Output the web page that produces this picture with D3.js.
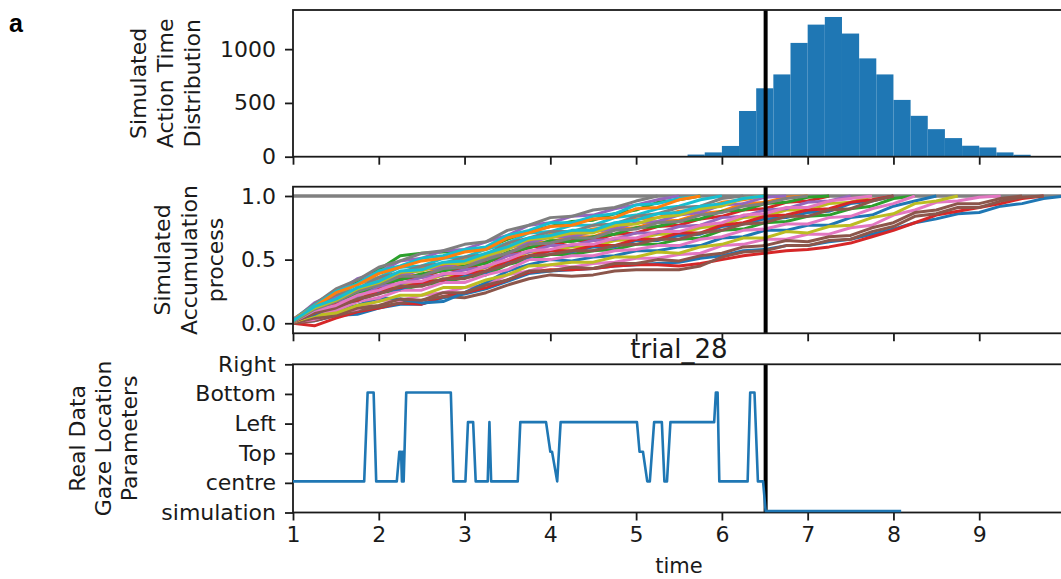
<!DOCTYPE html>
<html>
<head>
<meta charset="utf-8">
<script src="https://cdn.jsdelivr.net/npm/d3@7"></script>
<style>
  html, body { margin: 0; padding: 0; background: #fff; }
  svg { display: block; font-family: "DejaVu Sans", sans-serif; }
</style>
</head>
<body>
<svg id="chart" width="1061" height="579"></svg>
<script>
// ---- shared time axis ----
const timeTicks = [1, 2, 3, 4, 5, 6, 7, 8, 9];
const actionTime = 6.51;

// ---- simulated action time histogram ----
const binEdges  = [5.6, 5.8, 6.0, 6.2, 6.4, 6.6, 6.8, 7.0, 7.2, 7.4, 7.6, 7.8, 8.0, 8.2, 8.4, 8.6, 8.8, 9.0, 9.2, 9.4, 9.6];
const binCounts = [20, 40, 100, 425, 636, 765, 1058, 1228, 1299, 1145, 914, 765, 528, 380, 256, 173, 102, 86, 40, 18];
const countTicks = [0, 500, 1000];

// ---- simulated accumulation traces (values in hundredths, sampled on accTimes) ----
const accTimes = [1, 1.25, 1.5, 1.75, 2, 2.25, 2.5, 2.75, 3, 3.25, 3.5, 3.75, 4, 4.25, 4.5, 4.75, 5, 5.25, 5.5,
                  5.75, 6, 6.25, 6.5, 6.75, 7, 7.25, 7.5, 7.75, 8, 8.25, 8.5, 8.75, 9, 9.25, 9.5, 9.75, 10];
const walk00 = [0,2,6,7,12,15,15,20,23,27,33,39,41,42,43,45,46,47,48,51,53,57,58,61,61,64,66,70,74,79,82,86,87,92,94,98,100];
const walk01 = [2,12,17,26,30,37,38,44,45,51,55,63,64,68,68,74,75,80,81,86,88,94,95,99,100];
const walk02 = [2,15,25,33,42,53,55,56,57,59,66,72,76,80,81,86,89,95,97,100];
const walk03 = [0,-2,4,9,12,16,15,21,24,28,34,40,42,42,43,45,46,46,45,47,50,53,55,57,58,60,63,68,73,79,85,88,91,94,98,100];
const walk04 = [2,16,24,35,40,49,51,57,58,64,69,77,79,84,85,90,93,97,100];
const walk05 = [0,2,6,10,13,16,18,21,20,24,30,35,38,37,38,41,42,42,42,45,52,56,57,61,61,65,66,72,76,84,86,91,91,96,99,100];
const walk06 = [1,3,8,11,18,18,22,24,28,30,38,41,46,44,47,48,51,51,54,55,61,62,66,66,70,70,75,77,85,89,95,96,99,100];
const walk07 = [3,15,27,34,44,49,55,57,62,64,73,77,83,84,89,91,96,100];
const walk08 = [2,9,13,21,25,31,32,38,38,44,49,56,57,60,60,65,66,70,70,75,77,83,84,89,89,94,95,100];
const walk09 = [2,14,21,31,36,44,45,51,52,58,63,71,72,77,77,83,85,90,92,97,100];
const walk10 = [1,5,11,14,20,19,16,17,24,32,41,46,50,49,52,53,57,57,60,61,67,68,73,73,77,77,83,85,92,96,100];
const walk11 = [3,11,21,26,35,38,43,45,50,52,61,64,70,70,74,76,82,83,88,89,95,97,100];
const walk12 = [1,6,13,17,24,26,30,32,36,38,46,50,54,54,57,58,62,62,66,67,73,74,79,80,84,85,90,92,98,100];
const walk13 = [1,10,16,24,28,35,36,42,42,48,53,60,61,65,65,70,71,76,77,82,84,89,90,95,96,100];
const walk14 = [2,8,17,21,29,31,36,38,42,44,53,56,61,61,65,66,71,71,76,77,83,84,89,90,95,96,100];
const walk15 = [0,4,6,12,14,19,18,24,24,30,34,41,41,44,43,47,47,50,49,53,55,60,61,65,64,68,69,75,79,87,89,94,94,98,100];
const walk16 = [1,7,10,17,20,26,26,32,32,38,42,50,50,53,53,57,58,61,61,66,68,73,74,78,78,83,84,90,94,100];
const walk17 = [3,12,22,27,36,40,45,47,52,54,63,67,72,72,77,78,84,86,91,92,98,100];
const walk18 = [1,6,8,14,17,22,22,28,28,34,38,45,46,48,48,52,52,56,55,60,62,67,67,72,71,76,77,83,86,94,96,100];
const walk19 = [3,14,25,31,41,45,51,53,58,60,69,73,79,79,84,86,93,94,98,100];
const walk20 = [2,7,14,18,25,27,32,34,38,40,48,52,57,56,60,60,65,65,69,70,76,78,82,83,87,88,94,96,100];
const walk21 = [3,13,24,30,39,44,49,51,56,58,67,71,76,77,82,83,90,91,97,100];
const walk22 = [2,9,18,23,31,34,39,41,45,47,56,59,65,64,68,70,75,76,80,82,88,89,94,95,99,100];
const walk23 = [1,8,15,18,26,28,32,34,39,41,49,53,57,57,61,61,66,66,71,71,77,79,84,85,89,90,95,97,100];
const walk24 = [3,10,20,25,33,37,42,44,48,50,59,63,68,68,72,74,79,80,85,87,93,94,99,100];
const walk25 = [1,8,12,19,23,29,29,35,35,41,46,53,54,57,57,61,62,66,66,71,73,78,79,84,84,89,90,96,100];
const walk26 = [1,10,14,22,26,32,33,39,39,45,50,57,58,62,62,67,67,72,72,77,79,85,86,91,91,96,98,100];
const walk27 = [1,11,17,25,30,37,37,43,44,50,55,62,63,67,67,73,74,79,80,85,87,92,94,98,100];
const walk28 = [2,12,18,27,32,40,41,47,47,53,58,66,67,71,71,77,78,83,85,90,92,98,100];
const walk29 = [2,13,19,28,33,41,42,48,49,55,60,67,69,73,73,79,81,86,87,92,94,98,100];
const walks = [walk00, walk01, walk02, walk03, walk04, walk05, walk06, walk07, walk08, walk09,
               walk10, walk11, walk12, walk13, walk14, walk15, walk16, walk17, walk18, walk19,
               walk20, walk21, walk22, walk23, walk24, walk25, walk26, walk27, walk28, walk29];
const threshold = 1.0;
const accTicks = [0, 0.5, 1.0];
const accTickLabels = ["0.0", "0.5", "1.0"];

// ---- real gaze data ----
const gazeLabels = ["simulation", "centre", "Top", "Left", "Bottom", "Right"];
const gazeTimes = [1.00, 1.83, 1.87, 1.94, 1.97, 2.21, 2.24, 2.26, 2.27, 2.28, 2.29, 2.32, 2.84, 2.87,
                   3.01, 3.04, 3.10, 3.13, 3.27, 3.29, 3.31, 3.62, 3.65, 3.95, 4.00, 4.02, 4.08, 4.12,
                   5.01, 5.04, 5.08, 5.13, 5.16, 5.21, 5.30, 5.33, 5.36, 5.40, 5.91, 5.93, 5.95, 5.97,
                   6.30, 6.33, 6.38, 6.42, 6.48, 6.51, 8.09];
const gazeLevels = [1, 1, 4, 4, 1, 1, 2, 2, 1, 2, 1, 4, 4, 1,
                    1, 3, 3, 1, 1, 3, 1, 1, 3, 3, 2, 2, 1, 3,
                    3, 2, 2, 1, 1, 3, 3, 1, 1, 3, 3, 4, 4, 1,
                    1, 4, 4, 1, 1, 0, 0];
const trialTitle = "trial_28";

// ---- layout ----
const svg = d3.select("#chart");
const ink = "#1a1a1a";
const blue = "#1f77b4";
const tab10 = d3.schemeCategory10;

const x = d3.scaleLinear().domain([1, 10]).range([293, 1065]);
const panels = {
  hist: { top: 10,    bottom: 156.7 },
  acc:  { top: 186.7, bottom: 333.3 },
  gaze: { top: 364.3, bottom: 512.5 }
};

const yHist = d3.scaleLinear().domain([0, d3.max(binCounts) * 1.05]).range([panels.hist.bottom, panels.hist.top]);
const yAcc  = d3.scaleLinear().domain([-0.079, 1.073]).range([panels.acc.bottom, panels.acc.top]);
const yGaze = d3.scaleLinear().domain([0, gazeLabels.length - 1]).range([panels.gaze.bottom, panels.gaze.top]);

const defs = svg.append("defs");
Object.entries(panels).forEach(([k, p]) => {
  defs.append("clipPath").attr("id", "clip-" + k)
    .append("rect").attr("x", x(1)).attr("y", p.top)
    .attr("width", x(10) - x(1)).attr("height", p.bottom - p.top);
});

function panelGroup(key) {
  return svg.append("g").attr("clip-path", "url(#clip-" + key + ")");
}

// ---- histogram ----
const gHist = panelGroup("hist");
gHist.selectAll("rect.bar")
  .data(binCounts)
  .join("rect")
  .attr("class", "bar")
  .attr("x", (d, i) => x(binEdges[i]))
  .attr("width", (d, i) => x(binEdges[i + 1]) - x(binEdges[i]))
  .attr("y", d => yHist(d))
  .attr("height", d => yHist(0) - yHist(d))
  .attr("fill", blue);

// ---- accumulation traces ----
const gAcc = panelGroup("acc");
gAcc.append("line")
  .attr("x1", x(1)).attr("x2", x(10))
  .attr("y1", yAcc(threshold)).attr("y2", yAcc(threshold))
  .attr("stroke", "#808080").attr("stroke-width", 3.5);

const walkLine = d3.line()
  .x((d, i) => x(accTimes[i]))
  .y(d => yAcc(d / 100));
gAcc.selectAll("path.walk")
  .data(walks)
  .join("path")
  .attr("class", "walk")
  .attr("d", walkLine)
  .attr("fill", "none")
  .attr("stroke", (d, i) => tab10[i % 10])
  .attr("stroke-width", 3)
  .attr("stroke-linejoin", "round");

// ---- action time marker in every panel ----
Object.values(panels).forEach(p => {
  svg.append("line")
    .attr("x1", x(actionTime)).attr("x2", x(actionTime))
    .attr("y1", p.top).attr("y2", p.bottom)
    .attr("stroke", "#000").attr("stroke-width", 4);
});

// ---- axes & frames ----
function styleAxis(g, size) {
  g.select(".domain").remove();
  g.attr("font-family", "DejaVu Sans, sans-serif").attr("font-size", size).attr("color", ink);
  g.selectAll(".tick line").attr("stroke-width", 1.8);
}

function yAxis(scale, values, labels) {
  const g = svg.append("g").attr("transform", `translate(${x(1)},0)`)
    .call(d3.axisLeft(scale).tickValues(values).tickSize(8).tickPadding(9)
      .tickFormat((d, i) => labels[i]));
  styleAxis(g, 22);
}

function xAxis(p, withLabels) {
  const g = svg.append("g").attr("transform", `translate(0,${p.bottom})`)
    .call(d3.axisBottom(x).tickValues(timeTicks).tickSize(8).tickPadding(6)
      .tickFormat(withLabels ? d3.format("d") : () => ""));
  styleAxis(g, 22);
}

yAxis(yHist, countTicks, countTicks.map(String));
yAxis(yAcc, accTicks, accTickLabels);
yAxis(yGaze, d3.range(gazeLabels.length), gazeLabels);
xAxis(panels.hist, false);
xAxis(panels.acc, false);
xAxis(panels.gaze, true);

Object.values(panels).forEach(p => {
  svg.append("rect")
    .attr("x", x(1)).attr("y", p.top)
    .attr("width", x(10) - x(1)).attr("height", p.bottom - p.top)
    .attr("fill", "none").attr("stroke", ink).attr("stroke-width", 1.8);
});

// ---- gaze location (drawn above the frame so the bottom run stays visible) ----
const gazeLine = d3.line()
  .x((d, i) => x(gazeTimes[i]))
  .y(d => yGaze(d));
svg.append("path")
  .datum(gazeLevels)
  .attr("d", gazeLine)
  .attr("transform", "translate(0,-1.5)")
  .attr("fill", "none")
  .attr("stroke", blue)
  .attr("stroke-width", 2.6)
  .attr("stroke-linejoin", "round");

// ---- titles and labels ----
svg.append("text")
  .attr("x", (x(1) + x(10)) / 2).attr("y", 358)
  .attr("text-anchor", "middle")
  .attr("font-size", 26).attr("fill", ink)
  .text(trialTitle);

svg.append("text")
  .attr("x", (x(1) + x(10)) / 2).attr("y", 573)
  .attr("text-anchor", "middle")
  .attr("font-size", 21).attr("fill", ink)
  .text("time");

function yLabel(lines, baselines, p) {
  const cy = (p.top + p.bottom) / 2;
  lines.forEach((t, i) => {
    svg.append("text")
      .attr("transform", `translate(${baselines[i]},${cy}) rotate(-90)`)
      .attr("text-anchor", "middle")
      .attr("font-size", 22).attr("fill", ink)
      .text(t);
  });
}
yLabel(["Simulated", "Action Time", "Distribution"], [146, 173, 200], panels.hist);
yLabel(["Simulated", "Accumulation", "process"], [170, 197, 223], panels.acc);
yLabel(["Real Data", "Gaze Location", "Parameters"], [85, 111, 137], panels.gaze);

svg.append("text")
  .attr("x", 9).attr("y", 32)
  .attr("font-family", "Liberation Sans, Arial, sans-serif")
  .attr("font-weight", "bold").attr("font-size", 25).attr("fill", "#000")
  .text("a");
</script>
</body>
</html>
